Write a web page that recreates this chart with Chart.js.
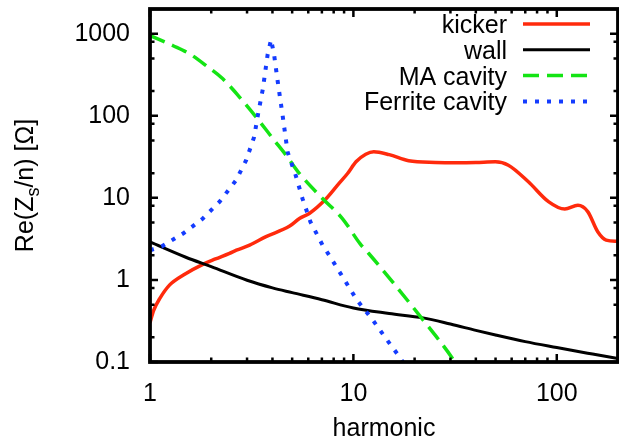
<!DOCTYPE html>
<html>
<head>
<meta charset="utf-8">
<script src="https://cdn.jsdelivr.net/npm/chart.js@4/dist/chart.umd.min.js"></script>
<style>
  html, body { margin: 0; padding: 0; background: #fff; }
  #wrap { width: 619px; height: 439px; }
</style>
</head>
<body>
<div id="wrap"><canvas id="c" width="619" height="439"></canvas></div>
<script>
// Real part of longitudinal impedance Re(Zs/n) versus harmonic number
const seriesNames = ['kicker', 'wall', 'MA cavity', 'Ferrite cavity'];

const kickerN = [1.0, 1.04, 1.12, 1.25, 1.46, 1.82, 2.1, 2.46, 2.66, 3.09, 3.72, 4.84, 5.43, 6.07, 7.3, 8.5, 9.36, 10.3, 11.5, 12.6, 15, 18.7, 25.3, 33, 40, 49.9, 57.8, 72.5, 91, 109.5, 127, 142, 159, 175, 200];
const kickerZ = [0.30, 0.42, 0.60, 0.87, 1.15, 1.55, 1.80, 2.11, 2.3, 2.66, 3.37, 4.5, 5.6, 6.45, 9.6, 15, 19.8, 27.5, 34, 36.5, 33.6, 28.3, 27, 26.8, 27, 27.5, 25, 15.7, 9, 7.3, 8.1, 6.8, 3.87, 3.06, 2.95];

const wallN = [1, 1.5, 2, 3, 4, 5, 7, 10, 15, 22, 30, 40, 50, 70, 100, 150, 200];
const wallZ = [2.9, 1.89, 1.45, 0.99, 0.80, 0.70, 0.574, 0.455, 0.39, 0.345, 0.29, 0.243, 0.213, 0.177, 0.150, 0.125, 0.110];

const maN = [1.0, 1.30, 1.57, 1.89, 2.28, 2.76, 3.33, 4.02, 4.67, 5.43, 7.05, 8.83, 10.8, 11.9, 15, 21.8, 30.6, 31.5];
const maZ = [950, 714, 566, 407, 282, 168, 96, 52.7, 33, 19.8, 9.8, 5.6, 2.75, 2.1, 1.06, 0.335, 0.112, 0.1];

const ferriteN = [1.0, 1.14, 1.46, 1.82, 2.2, 2.65, 2.97, 3.25, 3.39, 3.59, 3.79, 3.94, 4.08, 4.25, 4.49, 4.75, 5.2, 5.62, 6.15, 7.05, 7.6, 8.83, 10.4, 12.4, 14.4, 17.0, 17.5];
const ferriteZ = [2.3, 2.55, 3.7, 5.6, 9.0, 16.4, 28.7, 55, 101, 214, 563, 850, 542, 257, 100, 36, 18.9, 9.8, 5.1, 2.66, 2.0, 1.1, 0.57, 0.33, 0.196, 0.112, 0.1];

const xTickLabels = [1, 10, 100];
const yTickLabels = [0.1, 1, 10, 100, 1000];
const xMinorMantissas = [2, 3, 4, 5, 6, 7, 8, 9];
const yMinorMantissas = [2, 5, 8];

const FONT = '"Liberation Sans", Arial, Helvetica, sans-serif';
const FS = 25;
const RED = 'rgb(255,42,12)';
const BLACK = '#000';
const GREEN = 'rgb(20,228,20)';
const BLUE = 'rgb(20,60,255)';

const pts = (n, z) => n.map((v, i) => ({ x: v, y: z[i] }));

// Frame with inward ticks on all four sides, axis titles and an in-plot key
const framePlugin = {
  id: 'frame',
  afterDatasetsDraw(chart) {
    const { ctx, chartArea: a, scales: { x, y } } = chart;
    ctx.save();
    ctx.strokeStyle = '#000';
    ctx.lineCap = 'butt';

    // ticks
    ctx.lineWidth = 2.5;
    const MAJ = 8, MIN = 4.5;
    const tickX = (v, len) => {
      const px = x.getPixelForValue(v);
      ctx.beginPath();
      ctx.moveTo(px, a.bottom); ctx.lineTo(px, a.bottom - len);
      ctx.moveTo(px, a.top); ctx.lineTo(px, a.top + len);
      ctx.stroke();
    };
    const tickY = (v, len) => {
      const py = y.getPixelForValue(v);
      ctx.beginPath();
      ctx.moveTo(a.left, py); ctx.lineTo(a.left + len, py);
      ctx.moveTo(a.right, py); ctx.lineTo(a.right - len, py);
      ctx.stroke();
    };
    xTickLabels.forEach(d => {
      tickX(d, MAJ);
      xMinorMantissas.forEach(m => { const v = m * d; if (v < x.max) tickX(v, MIN); });
    });
    yTickLabels.forEach(d => {
      tickY(d, MAJ);
      yMinorMantissas.forEach(m => { const v = m * d; if (v < y.max) tickY(v, MIN); });
    });

    // border
    ctx.lineWidth = 3.8;
    ctx.strokeRect(a.left, a.top, a.right - a.left, a.bottom - a.top);

    // key
    ctx.font = `${FS}px ${FONT}`;
    ctx.fillStyle = '#000';
    ctx.textAlign = 'right';
    ctx.textBaseline = 'alphabetic';
    chart.data.datasets.forEach((ds, i) => {
      const base = 33 + i * 25.8;
      ctx.fillText(ds.label, 507, base);
      ctx.save();
      ctx.strokeStyle = ds.borderColor;
      ctx.lineWidth = ds.borderWidth;
      ctx.setLineDash(ds.borderDash || []);
      ctx.beginPath();
      ctx.moveTo(523, base - 9);
      ctx.lineTo(590, base - 9);
      ctx.stroke();
      ctx.restore();
    });

    // x title
    ctx.textAlign = 'center';
    ctx.fillText('harmonic', (a.left + a.right) / 2, 436);

    // y title with subscript
    ctx.save();
    ctx.translate(33, (a.top + a.bottom) / 2);
    ctx.rotate(-Math.PI / 2);
    const big = `${FS}px ${FONT}`, small = `${Math.round(FS * 0.7)}px ${FONT}`;
    const parts = [['Re(Z', big, 0], ['s', small, 6], ['/n) [Ω]', big, 0]];
    let total = 0;
    parts.forEach(p => { ctx.font = p[1]; total += ctx.measureText(p[0]).width; });
    let cx = -total / 2;
    ctx.textAlign = 'left';
    parts.forEach(p => {
      ctx.font = p[1];
      ctx.fillText(p[0], cx, p[2]);
      cx += ctx.measureText(p[0]).width;
    });
    ctx.restore();

    ctx.restore();
  }
};

const tickFont = { family: FONT, size: FS };

new Chart(document.getElementById('c'), {
  type: 'line',
  data: {
    datasets: [
      { label: seriesNames[0], data: pts(kickerN, kickerZ), borderColor: RED, borderWidth: 3.5, cubicInterpolationMode: 'monotone', order: 3 },
      { label: seriesNames[1], data: pts(wallN, wallZ), borderColor: BLACK, borderWidth: 3, cubicInterpolationMode: 'monotone', order: 2 },
      { label: seriesNames[2], data: pts(maN, maZ), borderColor: GREEN, borderWidth: 3.5, borderDash: [16, 8], cubicInterpolationMode: 'monotone', order: 1 },
      { label: seriesNames[3], data: pts(ferriteN, ferriteZ), borderColor: BLUE, borderWidth: 4, borderDash: [4, 8], tension: 0, order: 0 }
    ]
  },
  options: {
    responsive: false,
    animation: false,
    devicePixelRatio: 1,
    elements: { point: { radius: 0 } },
    layout: { padding: { top: 9, right: 1, left: 0, bottom: 0 } },
    plugins: { legend: { display: false }, tooltip: { enabled: false } },
    scales: {
      x: {
        type: 'logarithmic', min: 1, max: 200,
        grid: { display: false, drawTicks: false },
        border: { display: false },
        afterBuildTicks: s => { s.ticks = xTickLabels.map(v => ({ value: v })); },
        afterFit: s => { s.height = 77; s.paddingLeft = 0; s.paddingRight = 0; },
        ticks: { font: tickFont, color: '#000', padding: 17, autoSkip: false, maxRotation: 0, callback: v => String(v) }
      },
      y: {
        type: 'logarithmic', min: 0.1, max: 2000,
        grid: { display: false, drawTicks: false },
        border: { display: false },
        afterBuildTicks: s => { s.ticks = yTickLabels.map(v => ({ value: v })); },
        afterFit: s => { s.width = 150; s.paddingTop = 0; s.paddingBottom = 0; },
        ticks: { font: tickFont, color: '#000', padding: 20, autoSkip: false, callback: v => String(v) }
      }
    }
  },
  plugins: [framePlugin]
});
</script>
</body>
</html>
